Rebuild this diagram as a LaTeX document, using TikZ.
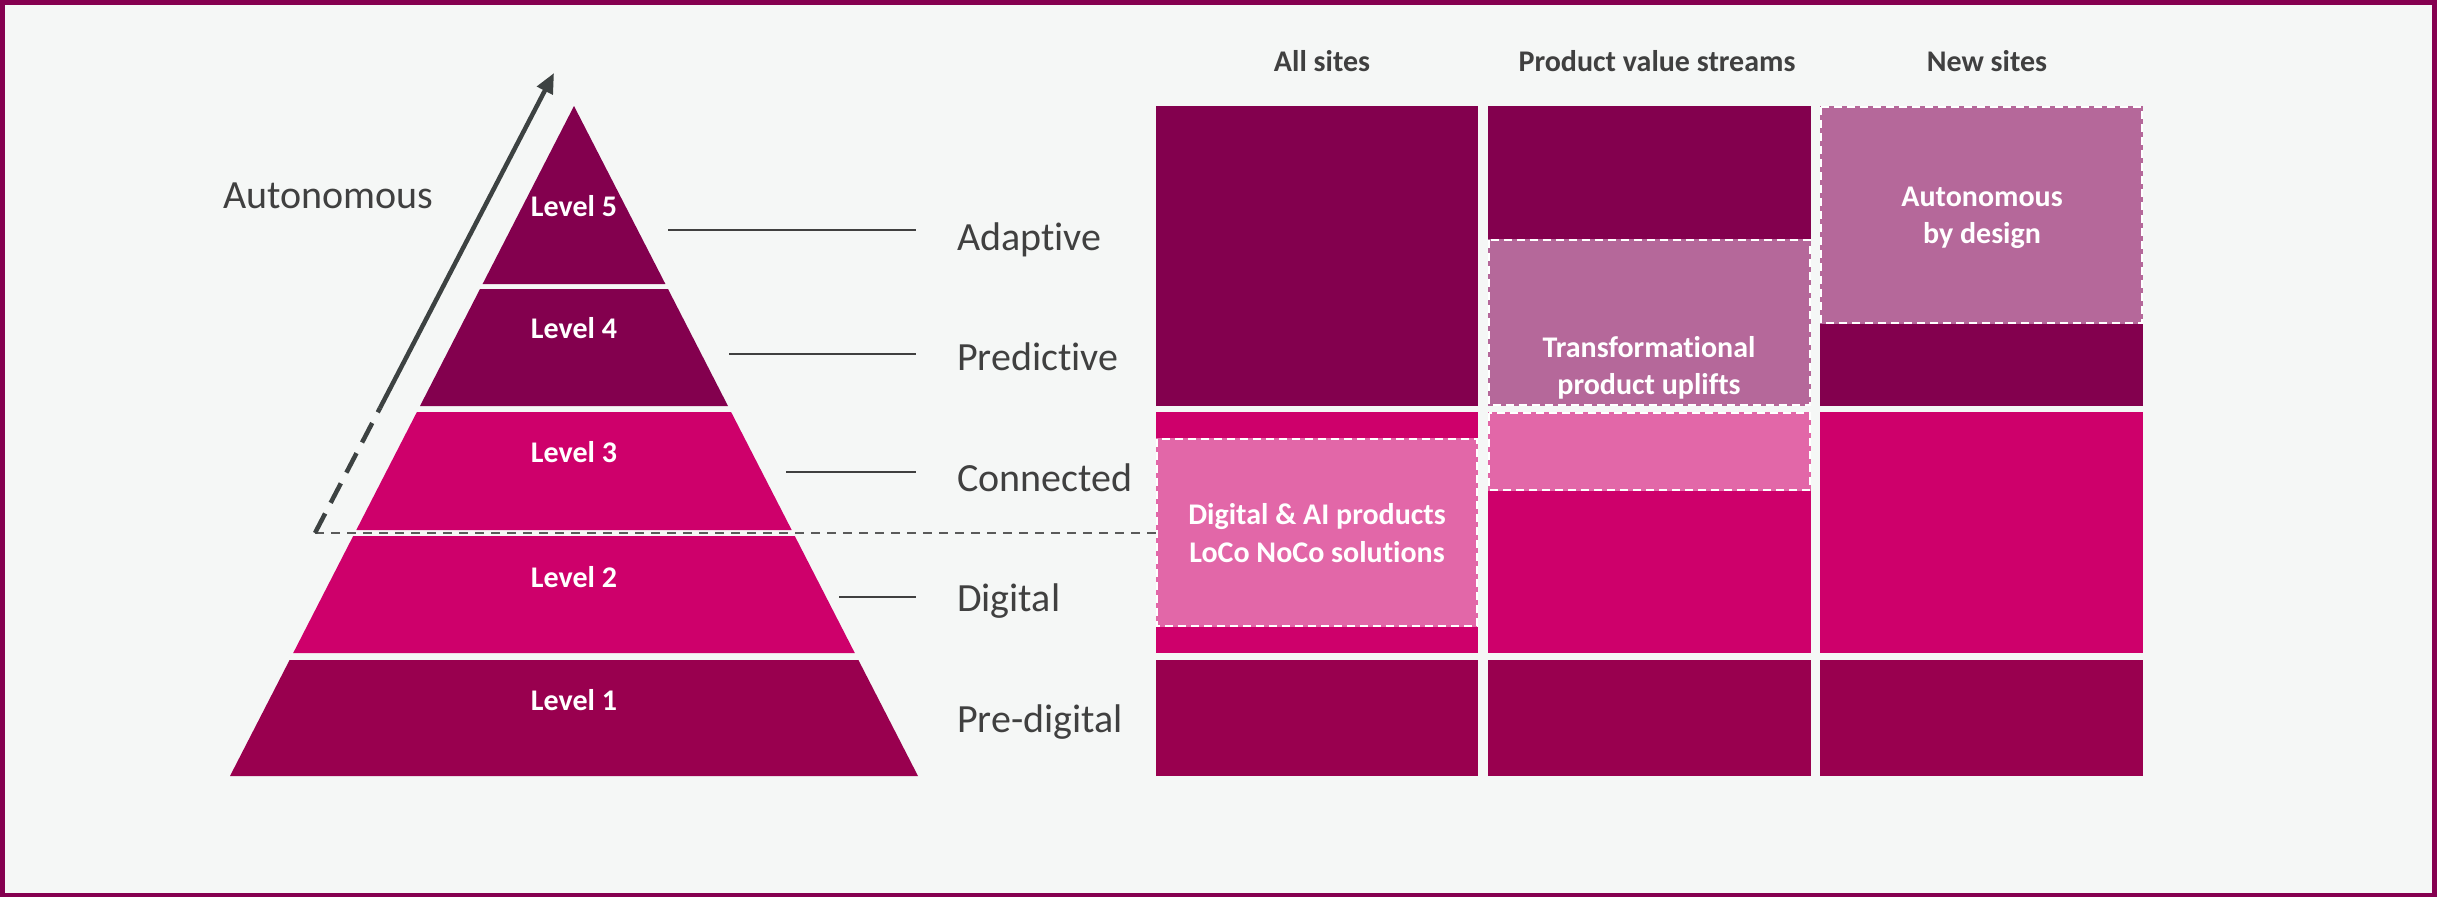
\documentclass[tikz,border=0pt]{standalone}
\usepackage{fontspec}
\setmainfont{Carlito}[Ligatures=NoCommon]
\usetikzlibrary{arrows.meta}
\definecolor{framec}{HTML}{850050}
\definecolor{bgc}{HTML}{F5F7F6}
\definecolor{dk}{HTML}{83004E}
\definecolor{cr}{HTML}{99004F}
\definecolor{mg}{HTML}{CE006B}
\definecolor{lp}{HTML}{E267A8}
\definecolor{mv}{HTML}{B5689A}
\definecolor{txt}{HTML}{404040}
\definecolor{arr}{HTML}{3D4242}
\definecolor{dline}{HTML}{5A5A5A}
\begin{document}
\begin{tikzpicture}[x=1pt,y=-1pt,
  lvl/.style={text=white,font=\bfseries\fontsize{30}{36}\selectfont,anchor=base,inner sep=0pt},
  lab/.style={text=txt,font=\fontsize{40}{48}\selectfont,anchor=base west,inner sep=0pt},
  hdr/.style={text=txt,font=\bfseries\fontsize{30}{36}\selectfont,anchor=base,inner sep=0pt},
  boxt/.style={text=white,font=\bfseries\fontsize{30}{37.5}\selectfont,align=center,inner sep=0pt},
  wdash/.style={draw=white,line width=2pt,dash pattern=on 8pt off 5pt},
  conn/.style={draw=txt,line width=2pt},
  arrline/.style={draw=arr,line width=4.5pt},
]
% background and frame
\fill[framec] (0,0) rectangle (2437,897);
\fill[bgc] (4.5,5) rectangle (2432,892.5);
\useasboundingbox (0,0) rectangle (2437,897);

% pyramid
\fill[dk] (574,106) -- (665.4,284) -- (482.6,284) -- cycle;
\fill[dk] (480,289) -- (668,289) -- (728,406) -- (420,406) -- cycle;
\fill[mg] (416.9,412) -- (731.1,412) -- (791.7,530) -- (356.3,530) -- cycle;
\fill[mg] (353.2,536) -- (794.8,536) -- (854.8,653) -- (293.2,653) -- cycle;
\fill[cr] (289.6,660) -- (858.4,660) -- (918,776) -- (230,776) -- cycle;

\node[lvl] (lv5) at (574,216) {Level 5};
\node[lvl] (lv4) at (574,338) {Level 4};
\node[lvl] (lv3) at (574,462) {Level 3};
\node[lvl] (lv2) at (574,587) {Level 2};
\node[lvl] (lv1) at (574,710) {Level 1};

% right-hand labels
\node[lab] (adaptive) at (957,250) {Adaptive};
\node[lab] (predictive) at (957,370) {Predictive};
\node[lab] (connected) at (957,491) {Connected};
\node[lab] (digital) at (957,611) {Digital};
\node[lab] (predigital) at (957,732) {Pre-digital};

\coordinate (a1) at (668,230); \coordinate (a2) at (916,230);
\coordinate (p1) at (729,354); \coordinate (p2) at (916,354);
\coordinate (c1) at (786,472); \coordinate (c2) at (916,472);
\coordinate (d1) at (839,597); \coordinate (d2) at (916,597);
\draw[conn] (a1) -- (a2);
\draw[conn] (p1) -- (p2);
\draw[conn] (c1) -- (c2);
\draw[conn] (d1) -- (d2);

% autonomous arrow
\node[lab] (auton) at (223,208) {Autonomous};
\coordinate (arrS) at (315,533);
\coordinate (arrM) at (380,408);
\coordinate (arrE) at (554,73);
\coordinate (gridL) at (1156,533);
\draw[draw=dline,line width=2.5pt,dash pattern=on 9pt off 7pt] (arrS) -- (gridL);
\draw[arrline,dash pattern=on 22pt off 12pt] (arrS) -- (arrM);
\draw[arrline,-{Triangle[length=20pt,width=17pt]}] (arrM) -- (arrE);

% headers
\node[hdr] (h1) at (1322,71) {All sites};
\node[hdr] (h2) at (1657,71) {Product value streams};
\node[hdr] (h3) at (1987,71) {New sites};

% column 1
\fill[dk] (1156,106) rectangle (1478,406);
\fill[mg] (1156,412) rectangle (1478,653);
\fill[lp] (1156,438) rectangle (1478,627);
\draw[wdash] (1157,439) rectangle (1477,626);
\fill[cr] (1156,660) rectangle (1478,776);
\node[boxt] (dai) at (1317,533) {Digital \& AI products\\LoCo NoCo solutions};

% column 2
\fill[dk] (1488,106) rectangle (1811,239);
\fill[mv] (1488,239) rectangle (1811,406);
\draw[wdash] (1489,240) rectangle (1810,405);
\fill[lp] (1488,412) rectangle (1811,491);
\fill[mg] (1488,491) rectangle (1811,653);
\draw[wdash] (1489,413) rectangle (1810,490);
\fill[cr] (1488,660) rectangle (1811,776);
\node[boxt] (tpu) at (1649,368) {Transformational\\product uplifts};

% column 3
\fill[mv] (1820,106) rectangle (2143,324);
\fill[dk] (1820,324) rectangle (2143,406);
\draw[wdash] (1821,107) rectangle (2142,323);
\fill[mg] (1820,412) rectangle (2143,653);
\fill[cr] (1820,660) rectangle (2143,776);
\node[boxt] (abd) at (1982,218) {Autonomous\\by design};
\end{tikzpicture}
\end{document}
